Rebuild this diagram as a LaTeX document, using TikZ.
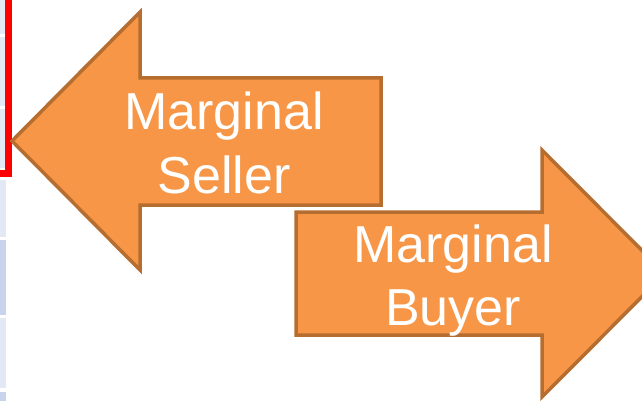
\documentclass[tikz,border=0pt]{standalone}
\usepackage{fontspec}
\setmainfont{Liberation Sans}
\usepackage{xcolor}
\usetikzlibrary{calc, positioning}
\definecolor{arrowfill}{HTML}{F79646}
\definecolor{arrowedge}{HTML}{B66D30}
\definecolor{celllight}{HTML}{E2E9F5}
\definecolor{celldark}{HTML}{C8D4EB}
\tikzset{
    arrowshape/.style = {fill=arrowfill, draw=arrowedge, line width=3.5pt, line join=miter},
    labelnode/.style = {draw=none, fill=none, rectangle, inner sep=0em, text=white,
      align=center, font=\fontsize{52}{63}\selectfont},
    lightcell/.style = {fill=celllight, draw=none},
    darkcell/.style = {fill=celldark, draw=none},
    redframe/.style = {draw=red, line width=7pt}
}

\begin{document}
\begin{tikzpicture}[x=1pt, y=-1pt]
    \useasboundingbox (0,0) rectangle (642,401);
    \clip (0,0) rectangle (642,401);
    % table cells at the left edge
    \fill[lightcell] (0,0) rectangle (5,34);
    \fill[lightcell] (0,37) rectangle (5,106);
    \fill[lightcell] (0,109) rectangle (5,168);
    \fill[lightcell] (0,180) rectangle (6,237);
    \fill[darkcell] (0,240) rectangle (6,315);
    \fill[lightcell] (0,318) rectangle (6,388);
    \fill[darkcell] (0,392) rectangle (6,401);
    \draw[redframe] (8.5,-5) -- (8.5,173.5) -- (-5,173.5);
    % seller arrow, pointing left
    \draw[arrowshape] (12,141) -- (140,12) -- (140,78) -- (381,78) -- (381,205)
        -- (140,205) -- (140,270) -- cycle;
    % buyer arrow, pointing right
    \draw[arrowshape] (665,273.5) -- (542,150) -- (542,212) -- (296,212) -- (296,335)
        -- (542,335) -- (542,397) -- cycle;
    \node [labelnode, anchor=base, name=Seller] at (224,193) {Marginal\\Seller};
    \node [labelnode, anchor=base, name=Buyer] at (453,325) {Marginal\\Buyer};
\end{tikzpicture}
\end{document}
